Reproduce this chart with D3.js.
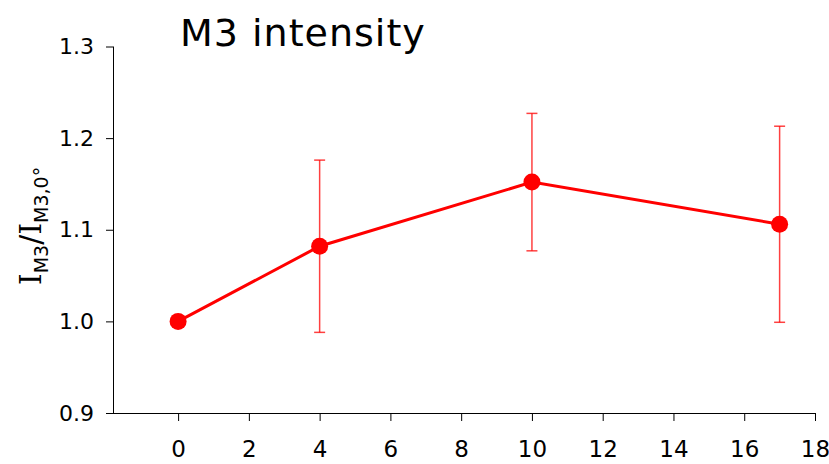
<!DOCTYPE html>
<html><head><meta charset="utf-8">
<script src="https://cdn.jsdelivr.net/npm/d3@7"></script>
<style>
body{margin:0;background:#fff;}
text{font-family:"Comic Sans MS","DejaVu Sans",sans-serif;}
</style></head>
<body><svg id="c" width="829" height="464"></svg>
<script>
const angles = [0, 4, 10, 17];
const intensity = [1.000, 1.082, 1.152, 1.106];
const errors = [0, 0.094, 0.075, 0.107];
const xTicks = [0, 2, 4, 6, 8, 10, 12, 14, 16, 18];
const yTicks = [0.9, 1.0, 1.1, 1.2, 1.3];
const title = "M3 intensity";

const svg = d3.select("#c");
const x = d3.scaleLinear().domain([-1.84, 18]).range([113, 815]);
const y = d3.scaleLinear().domain([0.9, 1.3]).range([413, 46.5]);

svg.append("g").attr("transform","translate(0,413)")
  .call(d3.axisBottom(x).tickValues(xTicks).tickSize(8).tickPadding(20).tickFormat(d3.format("d")))
  .call(g=>{g.attr("font-size",23);g.select(".domain").attr("d","M106.5,0.5H815");g.selectAll("line").attr("stroke","#000");g.selectAll("text").attr("fill","#000");});
svg.append("g").attr("transform","translate(113,0)")
  .call(d3.axisLeft(y).tickValues(yTicks).tickSize(7).tickPadding(12).tickFormat(d3.format(".1f")))
  .call(g=>{g.attr("font-size",22);g.select(".domain").attr("d","M0.5,46.5V413");g.selectAll("text").attr("fill","#000");});

const data = angles.map((a,i)=>({a, v:intensity[i], e:errors[i]}));
const eb = svg.append("g").attr("stroke","#ff0000").attr("stroke-opacity",0.75).attr("stroke-width",1.5);
data.filter(d=>d.e>0).forEach(d=>{
  eb.append("line").attr("x1",x(d.a)).attr("x2",x(d.a)).attr("y1",y(d.v-d.e)).attr("y2",y(d.v+d.e));
  [d.v-d.e,d.v+d.e].forEach(v=>eb.append("line").attr("x1",x(d.a)-5.5).attr("x2",x(d.a)+5.5).attr("y1",y(v)).attr("y2",y(v)));
});
svg.append("path").datum(data).attr("fill","none").attr("stroke","#ff0000").attr("stroke-width",3)
  .attr("d",d3.line().x(d=>x(d.a)).y(d=>y(d.v)));
svg.selectAll("circle.p").data(data).join("circle").attr("cx",d=>x(d.a)).attr("cy",d=>y(d.v)).attr("r",8.5).attr("fill","#ff0000");

svg.append("text").attr("x",180).attr("y",46).attr("font-size",38).attr("letter-spacing",1).attr("fill","#000").text(title);

const yl = svg.append("text").attr("transform","translate(41,226) rotate(-90)").attr("text-anchor","middle").attr("font-size",30).attr("fill","#000");
yl.append("tspan").attr("font-family","DejaVu Serif").text("I");
yl.append("tspan").attr("font-size",19).attr("dy",7).text("M3");
yl.append("tspan").attr("dy",-7).text("/");
yl.append("tspan").attr("font-family","DejaVu Serif").text("I");
yl.append("tspan").attr("font-size",19).attr("dy",7).text("M3,0°");
</script></body></html>
